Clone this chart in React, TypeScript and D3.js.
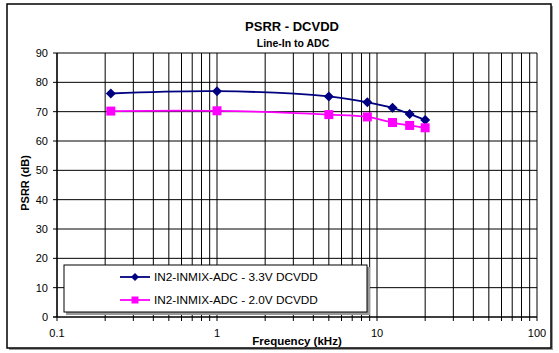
import React from 'react';
import * as d3 from 'd3';

// frequencies in kHz
const freqs = [0.217, 1, 5, 8.7, 12.5, 16, 20];
const psrr33 = [76.2, 77, 75.2, 73.2, 71.3, 69.2, 67.2];
const psrr20 = [70.2, 70.3, 69, 68.2, 66.3, 65.3, 64.5];
const seriesNames = ['IN2-INMIX-ADC - 3.3V DCVDD', 'IN2-INMIX-ADC - 2.0V DCVDD'];
const seriesColors = ['#000080', '#FF00FF'];
const yTicks = [0, 10, 20, 30, 40, 50, 60, 70, 80, 90];
const xTickLabels = [0.1, 1, 10, 100];

const W = 559;
const H = 353;

export default function App() {
  let x = d3.scaleLog().domain([0.1, 100]).range([57, 537]);
  let y = d3.scaleLinear().domain([0, 90]).range([317, 53]);

  // all decade + minor grid positions
  let gridX: number[] = [];
  for (let dec = 0.1; dec < 100; dec *= 10) {
    for (let m = 1; m < 10; m++) gridX.push(dec * m);
  }
  gridX.push(100);

  let line = d3.line<number>()
    .x((d, i) => x(freqs[i]))
    .y(d => y(d))
    .curve(d3.curveCatmullRom.alpha(0.5));

  const diamond = (cx: number, cy: number, r: number) =>
    `M${cx},${cy - r}L${cx + r},${cy}L${cx},${cy + r}L${cx - r},${cy}Z`;

  const font = '"Liberation Sans", Arial, sans-serif';

  return (
    <svg width={W} height={H} style={{ position: 'absolute', left: 0, top: 0, background: '#fff' }}
      fontFamily={font}>
      {/* outer frame with shadow */}
      <rect x={9} y={6} width={544} height={344} fill="#999" />
      <rect x={7} y={4} width={544} height={344} fill="#fff" stroke="#000" strokeWidth={1.5} />

      <text x={292} y={31} textAnchor="middle" fontWeight="bold" fontSize={13}>PSRR - DCVDD</text>
      <text x={293} y={47} textAnchor="middle" fontWeight="bold" fontSize={10.5}>Line-In to ADC</text>

      {/* horizontal grid */}
      {yTicks.map(t => (
        <g key={'y' + t}>
          <line x1={53} x2={537} y1={y(t)} y2={y(t)} stroke="#000" strokeWidth={1} />
          <text x={48} y={y(t) + 4} textAnchor="end" fontSize={11}>{t}</text>
        </g>
      ))}
      {/* vertical grid */}
      {gridX.map((f, i) => (
        <line key={'x' + i} x1={x(f)} x2={x(f)} y1={53} y2={321} stroke="#000" strokeWidth={1} />
      ))}
      {xTickLabels.map(f => (
        <text key={'xl' + f} x={x(f)} y={337} textAnchor="middle" fontSize={11}>{f}</text>
      ))}
      <line x1={57} x2={57} y1={53} y2={317} stroke="#000" strokeWidth={1.2} />
      <line x1={53} x2={537} y1={317} y2={317} stroke="#000" strokeWidth={1.2} />

      <text x={297} y={345} textAnchor="middle" fontWeight="bold" fontSize={11.5}>Frequency (kHz)</text>
      <text transform="translate(29,183) rotate(-90)" textAnchor="middle" fontWeight="bold" fontSize={11}>PSRR (dB)</text>

      {/* series */}
      <path d={line(psrr33) || ''} fill="none" stroke={seriesColors[0]} strokeWidth={1.8} />
      <path d={line(psrr20) || ''} fill="none" stroke={seriesColors[1]} strokeWidth={1.8} />
      {psrr33.map((v, i) => (
        <path key={'d' + i} d={diamond(x(freqs[i]), y(v), 5)} fill={seriesColors[0]} />
      ))}
      {psrr20.map((v, i) => (
        <rect key={'s' + i} x={x(freqs[i]) - 4.5} y={y(v) - 4.5} width={9} height={9} fill={seriesColors[1]} />
      ))}

      {/* legend */}
      <rect x={66} y={267} width={304} height={48} fill="#999" />
      <rect x={64} y={265} width={303} height={47} fill="#fff" stroke="#000" strokeWidth={1} />
      {seriesNames.map((name, i) => {
        let ly = 277 + i * 23;
        return (
          <g key={name}>
            <line x1={120} x2={150} y1={ly} y2={ly} stroke={seriesColors[i]} strokeWidth={1.8} />
            {i === 0
              ? <path d={diamond(135, ly, 4)} fill={seriesColors[i]} />
              : <rect x={131.5} y={ly - 3.5} width={7} height={7} fill={seriesColors[i]} />}
            <text x={154} y={ly + 4} fontSize={11.8}>{name}</text>
          </g>
        );
      })}
    </svg>
  );
}
